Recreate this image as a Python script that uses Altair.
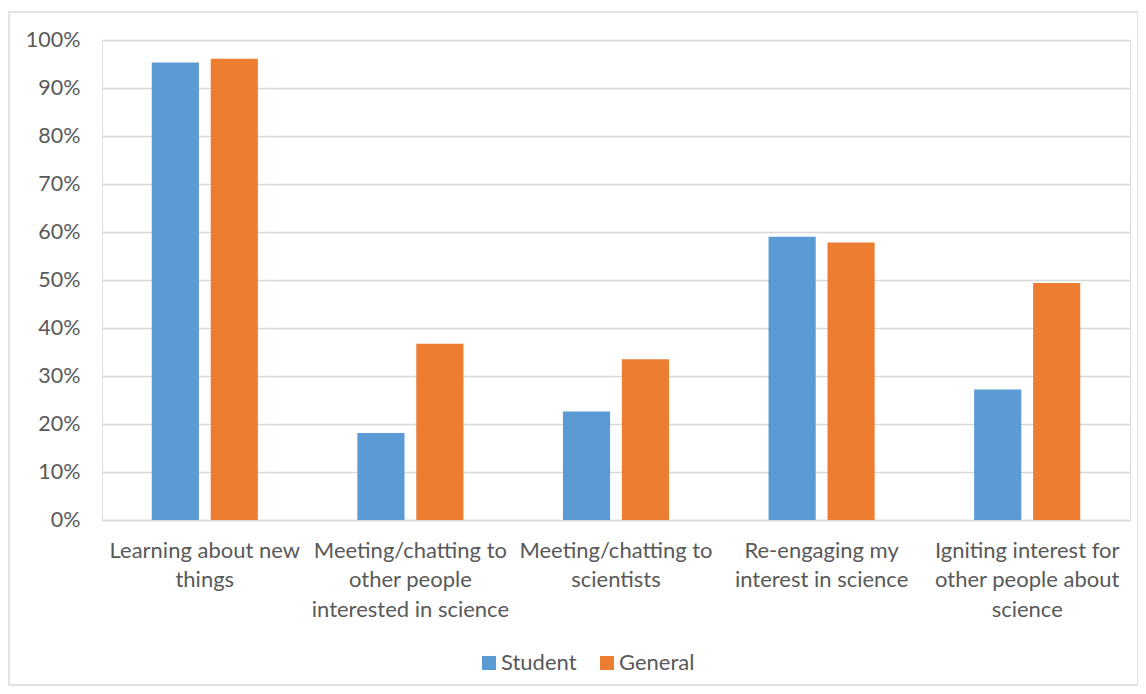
import altair as alt
import pandas as pd

categories = [
    "Learning about new things",
    "Meeting/chatting to other people interested in science",
    "Meeting/chatting to scientists",
    "Re-engaging my interest in science",
    "Igniting interest for other people about science",
]
label_lines = [
    ["Learning about new", "things"],
    ["Meeting/chatting to", "other people", "interested in science"],
    ["Meeting/chatting to", "scientists"],
    ["Re-engaging my", "interest in science"],
    ["Igniting interest for", "other people about", "science"],
]
series = ["Student", "General"]
student = [0.953, 0.181, 0.226, 0.590, 0.272]
general = [0.961, 0.367, 0.335, 0.578, 0.494]
colors = ["#5B9BD5", "#ED7D31"]

rows = []
for i, c in enumerate(categories):
    rows.append({"category": c, "series": "Student", "value": student[i]})
    rows.append({"category": c, "series": "General", "value": general[i]})
df = pd.DataFrame(rows)

mapping = ", ".join(
    f"'{c}': {label_lines[i]!r}" for i, c in enumerate(categories)
)
label_expr = "{" + mapping + "}[datum.label]"

FONT = "Lato"
TXT = "#595959"

bars = alt.Chart(df).mark_bar().encode(
    x=alt.X(
        "category:N",
        sort=categories,
        scale=alt.Scale(paddingInner=0.484, paddingOuter=0.242),
        axis=alt.Axis(
            title=None,
            labelAngle=0,
            labelExpr=label_expr,
            labelFont=FONT,
            labelFontSize=22,
            labelColor=TXT,
            labelLineHeight=29.5,
            labelPadding=20,
            labelLimit=400,
            ticks=False,
            domainColor="#D9D9D9",
            domainWidth=1.5,
            grid=False,
        ),
    ),
    xOffset=alt.XOffset(
        "series:N", sort=series,
        scale=alt.Scale(paddingInner=0.2, paddingOuter=0),
    ),
    y=alt.Y(
        "value:Q",
        scale=alt.Scale(domain=[0, 1]),
        axis=alt.Axis(
            title=None,
            format=".0%",
            values=[i / 10 for i in range(11)],
            labelFont=FONT,
            labelFontSize=21.5,
            labelColor=TXT,
            labelPadding=22,
            ticks=False,
            domain=False,
            gridColor="#D9D9D9",
            gridWidth=1.5,
        ),
    ),
    color=alt.Color(
        "series:N",
        sort=series,
        scale=alt.Scale(domain=series, range=colors),
        legend=alt.Legend(
            title=None,
            orient="none",
            legendX=376,
            legendY=612,
            direction="horizontal",
            symbolType="square",
            symbolSize=196,
            symbolStrokeWidth=0,
            labelFont=FONT,
            labelFontSize=22,
            labelColor=TXT,
            labelOffset=1,
            columnPadding=19,
        ),
    ),
)

border = alt.Chart(pd.DataFrame({"a": [0]})).mark_rect(
    filled=False, stroke="#D9D9D9", strokeWidth=1.5
).encode(
    x=alt.value(-93), x2=alt.value(1036), y=alt.value(-28), y2=alt.value(645)
)

chart = alt.layer(border, bars).properties(
    width=1028,
    height=480,
    padding={"left": 94, "top": 32, "right": 8, "bottom": 166},
    autosize=alt.AutoSizeParams(type="none"),
).configure_view(stroke=None).configure(background="white")

chart.save("out.html", embed_options={"renderer": "svg", "actions": False})
